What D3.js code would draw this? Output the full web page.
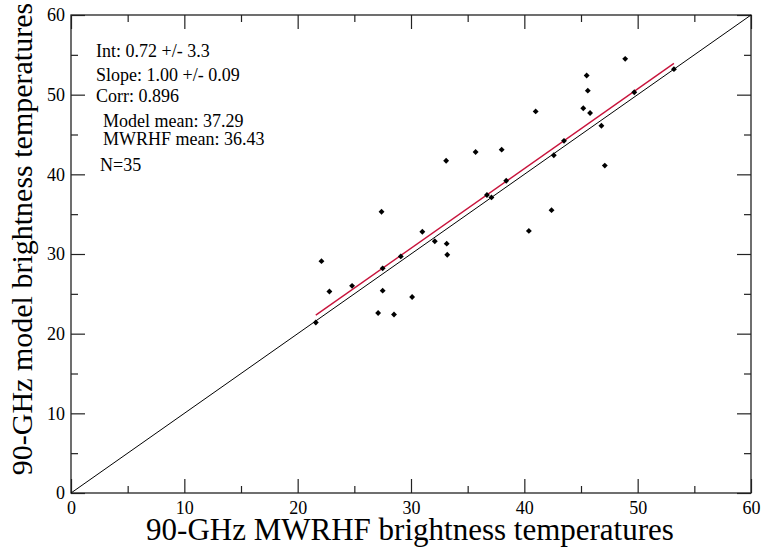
<!DOCTYPE html>
<html>
<head>
<meta charset="utf-8">
<script src="https://cdn.jsdelivr.net/npm/d3@7"></script>
<style>
  body { margin: 0; background: #fff; }
  svg { font-family: "Liberation Serif", "DejaVu Serif", serif; }
</style>
</head>
<body>
<svg id="chart" width="761" height="548"></svg>
<script>
// ---------------- data ----------------
const mwrhf = [21.6, 22.1, 22.8, 24.8, 27.4, 27.5, 27.5, 27.1, 28.5, 29.1,
               30.1, 31.0, 32.1, 33.15, 33.2, 33.1, 35.7, 38.0, 36.7, 37.1,
               38.4, 43.5, 42.6, 46.8, 47.1, 42.4, 40.4, 41.0, 45.5, 45.6,
               45.2, 45.8, 48.9, 49.7, 53.2];
const model = [21.4, 29.1, 25.3, 26.0, 35.3, 28.2, 25.4, 22.6, 22.4, 29.7,
               24.6, 32.8, 31.6, 31.3, 29.9, 41.7, 42.8, 43.1, 37.4, 37.1,
               39.2, 44.2, 42.4, 46.1, 41.1, 35.5, 32.9, 47.9, 52.4, 50.5,
               48.3, 47.7, 54.5, 50.3, 53.2];
const fitInt = 0.72;
const fitSlope = 1.00;
const majorTicks = [0, 10, 20, 30, 40, 50, 60];
const minorTicks = [5, 15, 25, 35, 45, 55];
const statLines = ["Int: 0.72 +/- 3.3", "Slope: 1.00 +/- 0.09", "Corr: 0.896",
                   "Model mean: 37.29", "MWRHF mean: 36.43", "N=35"];
const xTitle = "90-GHz MWRHF brightness temperatures";
const yTitle = "90-GHz model brightness temperatures";

// ---------------- layout ----------------
const plotL = 71, plotR = 751, plotT = 15, plotB = 493;
const svg = d3.select("#chart");

const x = d3.scaleLinear().domain([0, 60]).range([plotL, plotR]);
const y = d3.scaleLinear().domain([0, 60]).range([plotB, plotT]);

// ---------------- axes ----------------
function styleAxis(g) {
    g.select(".domain").remove();
    g.selectAll("line").attr("stroke", "#222").attr("stroke-width", 1.2);
    g.selectAll("text").attr("fill", "#000").style("font-size", "18px")
        .style("font-family", "Liberation Serif");
}

svg.append("g").attr("transform", "translate(0," + plotB + ")")
    .call(d3.axisBottom(x).tickValues(majorTicks).tickSizeInner(-14).tickSizeOuter(0).tickPadding(8))
    .call(styleAxis);
svg.append("g").attr("transform", "translate(0," + plotB + ")")
    .call(d3.axisBottom(x).tickValues(minorTicks).tickSizeInner(-7).tickSizeOuter(0).tickFormat(""))
    .call(styleAxis);
svg.append("g").attr("transform", "translate(0," + plotT + ")")
    .call(d3.axisTop(x).tickValues(majorTicks).tickSizeInner(-14).tickSizeOuter(0).tickFormat(""))
    .call(styleAxis);
svg.append("g").attr("transform", "translate(0," + plotT + ")")
    .call(d3.axisTop(x).tickValues(minorTicks).tickSizeInner(-7).tickSizeOuter(0).tickFormat(""))
    .call(styleAxis);

svg.append("g").attr("transform", "translate(" + plotL + ",0)")
    .call(d3.axisLeft(y).tickValues(majorTicks).tickSizeInner(-14).tickSizeOuter(0).tickPadding(6))
    .call(styleAxis);
svg.append("g").attr("transform", "translate(" + plotL + ",0)")
    .call(d3.axisLeft(y).tickValues(minorTicks).tickSizeInner(-7).tickSizeOuter(0).tickFormat(""))
    .call(styleAxis);
svg.append("g").attr("transform", "translate(" + plotR + ",0)")
    .call(d3.axisRight(y).tickValues(majorTicks).tickSizeInner(-14).tickSizeOuter(0).tickFormat(""))
    .call(styleAxis);
svg.append("g").attr("transform", "translate(" + plotR + ",0)")
    .call(d3.axisRight(y).tickValues(minorTicks).tickSizeInner(-7).tickSizeOuter(0).tickFormat(""))
    .call(styleAxis);

// frame
svg.append("rect")
    .attr("x", plotL).attr("y", plotT)
    .attr("width", plotR - plotL).attr("height", plotB - plotT)
    .attr("fill", "none").attr("stroke", "#222").attr("stroke-width", 1.3);

// ---------------- lines ----------------
// 1:1 line
svg.append("line")
    .attr("x1", x(0)).attr("y1", y(0))
    .attr("x2", x(60)).attr("y2", y(60))
    .attr("stroke", "#000").attr("stroke-width", 1);

// regression fit over data range
const xr = d3.extent(mwrhf);
svg.append("line")
    .attr("x1", x(xr[0])).attr("y1", y(fitInt + fitSlope * xr[0]))
    .attr("x2", x(xr[1])).attr("y2", y(fitInt + fitSlope * xr[1]))
    .attr("stroke", "#c8143c").attr("stroke-width", 1.4);

// ---------------- points ----------------
const pts = mwrhf.map((v, i) => ({x: v, y: model[i]}));
const diamond = d3.symbol().type(d3.symbolDiamond2).size(22);
svg.append("g").selectAll("path")
    .data(pts)
    .enter().append("path")
    .attr("transform", d => "translate(" + x(d.x) + "," + y(d.y) + ")")
    .attr("d", diamond)
    .attr("fill", "#000");

// ---------------- stats text ----------------
const statPos = [[96, 57], [96, 81], [96, 102], [103, 127], [103, 145], [100, 171]];
svg.append("g").selectAll("text")
    .data(statLines)
    .enter().append("text")
    .attr("x", (d, i) => statPos[i][0])
    .attr("y", (d, i) => statPos[i][1])
    .style("font-size", "18px")
    .attr("fill", "#000")
    .text(d => d);

// ---------------- titles ----------------
svg.append("text")
    .attr("x", 410).attr("y", 540)
    .attr("text-anchor", "middle")
    .style("font-size", "31px")
    .text(xTitle);

svg.append("text")
    .attr("transform", "translate(32,239) rotate(-90)")
    .attr("text-anchor", "middle")
    .style("font-size", "30px")
    .text(yTitle);
</script>
</body>
</html>
